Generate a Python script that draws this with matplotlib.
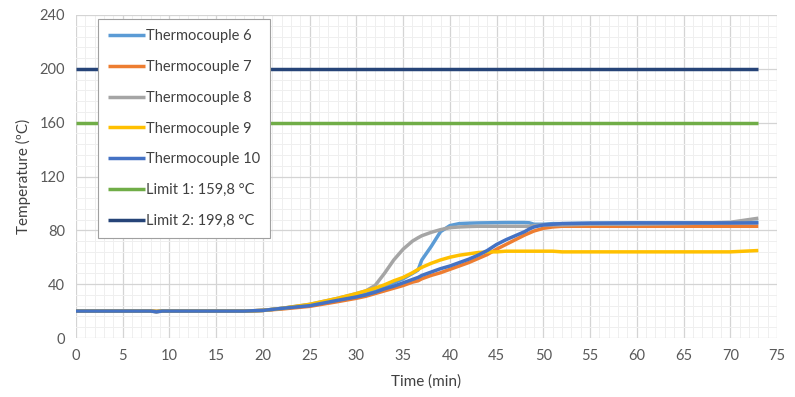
import matplotlib
matplotlib.use("Agg")
import matplotlib.pyplot as plt
from matplotlib.ticker import MultipleLocator

plt.rcParams['font.family'] = ['Lato', 'DejaVu Sans']

# Time axis (min)
time = [0, 5, 8, 8.6, 9.2, 10, 15, 18, 20, 22, 25, 28, 30, 31, 32, 33, 34, 35,
        36, 36.6, 37, 38, 39, 40, 41, 42, 43, 44, 45, 46, 47, 48, 48.5, 49, 50,
        51, 52, 55, 60, 65, 70, 73]

tc6 = [20, 20, 20, 19.7, 20, 20, 20, 20, 20.5, 22, 24.5, 28.5, 32, 34, 36, 38.5, 41, 44,
       48, 50.5, 58, 68, 79, 83.5, 85, 85.3, 85.5, 85.6, 85.7, 85.8, 85.8, 85.8, 85.6, 84.5, 84.5,
       85, 85, 85.3, 85.5, 85.5, 85.5, 86]
tc7 = [20, 20, 20, 19.7, 20, 20, 20, 20, 20.5, 21.5, 23.5, 27, 29.5, 31, 33, 35, 37, 39,
       41.5, 42.5, 44, 46.5, 48.5, 51, 53.5, 56, 59, 62, 66, 69.5, 73, 76.5, 78, 79.5, 81.5,
       82.5, 83, 83, 83, 83, 83, 83]
tc8 = [20, 20, 20, 19.7, 20, 20, 20, 20, 20.5, 22, 25, 29.5, 33, 35, 39, 48, 58, 66,
       72, 74.5, 76, 78.5, 80.5, 82, 82.5, 82.8, 83, 83, 83, 83, 83, 83, 83, 83.5, 84,
       84, 84, 84.5, 84.5, 85, 86, 89]
tc9 = [20, 20, 20, 19.7, 20, 20, 20, 20, 20.5, 22, 25, 29.5, 33, 35, 37, 39.5, 42.5, 45,
       48.5, 51, 52.5, 55.5, 58, 60, 61.5, 62.5, 63.5, 64, 64, 64.5, 64.5, 64.5, 64.5, 64.5, 64.5,
       64.5, 64, 64, 64, 64, 64, 65]
tc10 = [20, 20, 20, 19.4, 20, 20, 20, 20, 20.5, 22, 24, 28, 30.5, 32, 34, 36.5, 38.5, 41,
        43.5, 45, 46.5, 49, 51.5, 53.5, 56, 58.5, 61.5, 65, 69.5, 73, 76, 79, 81, 82.5, 84,
        84.5, 85, 85.3, 85.5, 85.5, 85.5, 85.5]

limit_time = [0, 73]
limit1 = [159.8, 159.8]
limit2 = [199.8, 199.8]

labels = ["Thermocouple 6", "Thermocouple 7", "Thermocouple 8", "Thermocouple 9",
          "Thermocouple 10", "Limit 1: 159,8 °C", "Limit 2: 199,8 °C"]
colors = ["#5B9BD5", "#ED7D31", "#A5A5A5", "#FFC000", "#4472C4", "#70AD47", "#264478"]

fig = plt.figure(figsize=(7.95, 3.97), dpi=100)
ax = fig.add_axes([76 / 795, 1 - 338 / 397, (777 - 76) / 795, (338 - 15) / 397])

series = [(time, tc6), (time, tc7), (time, tc8), (time, tc9), (time, tc10),
          (limit_time, limit1), (limit_time, limit2)]
for (x, y), lab, col in zip(series, labels, colors):
    ax.plot(x, y, color=col, lw=2.5, label=lab, solid_capstyle='butt')

ax.set_xlim(0, 75)
ax.set_ylim(0, 240)
ax.xaxis.set_major_locator(MultipleLocator(5))
ax.xaxis.set_minor_locator(MultipleLocator(1))
ax.yaxis.set_major_locator(MultipleLocator(40))
ax.yaxis.set_minor_locator(MultipleLocator(8))
ax.grid(which='major', color='#D4D4D4', lw=0.9)
ax.grid(which='minor', color='#EFEFEF', lw=0.7)
ax.set_axisbelow(True)
for s in ax.spines.values():
    s.set_visible(False)
ax.tick_params(which='both', length=0, labelsize=10.5, colors='#595959', pad=8)

ax.set_xlabel("Time (min)", fontsize=11, color='#404040', labelpad=8)
ax.set_ylabel("Temperature (ºC)", fontsize=11, color='#404040', labelpad=6)

leg = ax.legend(loc='upper left', bbox_to_anchor=(98 / 795, 1 - 19 / 397),
                bbox_transform=fig.transFigure, fontsize=10.5, frameon=True,
                fancybox=False, framealpha=1, edgecolor='#A0A0A0',
                handlelength=2.5, handletextpad=0.1, labelspacing=1.15,
                borderpad=0.7, borderaxespad=0)
leg.get_frame().set_linewidth(0.8)
for t in leg.get_texts():
    t.set_color('#404040')

fig.savefig("out.png", dpi=100)
